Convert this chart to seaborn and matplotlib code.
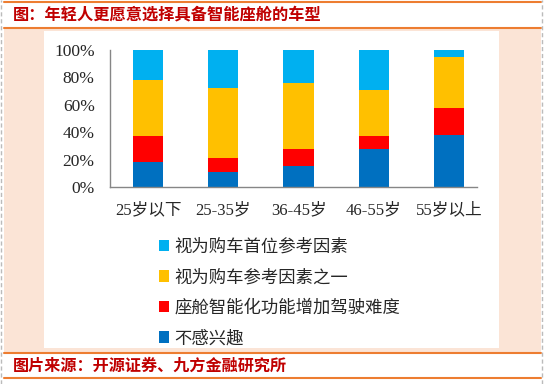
import matplotlib
matplotlib.use("Agg")
import matplotlib.pyplot as plt
from matplotlib.patches import Rectangle, Patch
from matplotlib.lines import Line2D
from matplotlib.ticker import PercentFormatter
import pandas as pd
import seaborn as sns

# data (percent)
categories = ["25岁以下", "25-35岁", "36-45岁", "46-55岁", "55岁以上"]
not_interested = [18, 11, 15, 28, 38]          # 不感兴趣
harder_to_drive = [19, 10, 13, 9, 20]          # 座舱智能化功能增加驾驶难度
one_factor = [41, 51, 48, 34, 37]              # 视为购车参考因素之一
first_factor = [22, 28, 24, 29, 5]             # 视为购车首位参考因素

series_names = ["不感兴趣", "座舱智能化功能增加驾驶难度", "视为购车参考因素之一", "视为购车首位参考因素"]
series_colors = ["#0070C0", "#FF0000", "#FFC000", "#00B0F0"]

sns.set_style("white")
plt.rcParams["font.family"] = ["Liberation Serif", "Noto Sans CJK SC", "DejaVu Sans"]

W, H = 545, 384
fig = plt.figure(figsize=(W / 100, H / 100), dpi=100)
fig.patch.set_facecolor("white")


def fx(x):
    return x / W


def fy(y):
    return 1 - y / H


# frame decoration
fig.patches.append(Rectangle((fx(4), fy(352)), fx(537), 323 / H, transform=fig.transFigure,
                             facecolor="#FBE4D6", edgecolor="none", zorder=-2))
fig.patches.append(Rectangle((fx(44), fy(348)), fx(455), 317 / H, transform=fig.transFigure,
                             facecolor="white", edgecolor="none", zorder=-1))
for y in [2, 28, 353, 378]:
    fig.add_artist(Line2D([fx(4), fx(541)], [fy(y), fy(y)], transform=fig.transFigure,
                          color="#ED7D31", lw=1.5))
for x in [1, 542]:
    fig.add_artist(Line2D([fx(x), fx(x)], [0, 1], transform=fig.transFigure,
                          color="#BBBBBB", lw=1, ls=(0, (3, 2))))

fig.text(fx(13), fy(14), "图：年轻人更愿意选择具备智能座舱的车型", color="#C00000",
         fontsize=11.7, fontweight="bold", va="center", ha="left",
         family=["Noto Sans CJK SC", "DejaVu Sans"])
fig.text(fx(13), fy(366), "图片来源：开源证券、九方金融研究所", color="#C00000",
         fontsize=11.6, fontweight="bold", va="center", ha="left",
         family=["Noto Sans CJK SC", "DejaVu Sans"])

# chart
ax = fig.add_axes([fx(110), fy(187), fx(367), 137 / H])
ax.set_facecolor("none")
ax.set_zorder(1)

layers = [not_interested, harder_to_drive, one_factor, first_factor]
cum = []
total = [0] * len(categories)
for layer in layers:
    total = [t + v for t, v in zip(total, layer)]
    cum.append(list(total))

# draw from the tallest cumulative layer down so the stack shows through
for i in reversed(range(len(layers))):
    df = pd.DataFrame({"cat": categories, "val": cum[i]})
    sns.barplot(data=df, x="cat", y="val", color=series_colors[i], saturation=1,
                width=0.4, linewidth=0, ax=ax)

ax.set_xlim(-0.505, 4.372)
ax.set_ylim(0, 100)
ax.set_xlabel("")
ax.set_ylabel("")
ax.yaxis.set_major_formatter(PercentFormatter(decimals=0))
ax.set_yticks([0, 20, 40, 60, 80, 100])
ax.set_xticks(range(len(categories)))
ax.set_xticklabels(categories)
ax.set_xticks([0.5, 1.5, 2.5, 3.5], minor=True)
ax.tick_params(axis="x", which="major", length=0, pad=11, labelsize=12)
ax.tick_params(axis="x", which="minor", direction="in", length=4, color="#868686")
ax.tick_params(axis="y", direction="in", length=5, color="#868686", labelsize=12.5, pad=11)
for side in ["top", "right"]:
    ax.spines[side].set_visible(False)
for side in ["left", "bottom"]:
    ax.spines[side].set_color("#868686")
    ax.spines[side].set_linewidth(1)

handles = [Patch(facecolor=series_colors[i], edgecolor="none") for i in reversed(range(4))]
labels = [series_names[i] for i in reversed(range(4))]
fig.legend(handles, labels, loc="upper left", bbox_to_anchor=(fx(143), fy(222)),
           frameon=False, handlelength=0.6, handleheight=0.6, handletextpad=0.3,
           labelspacing=0.72, prop={"family": ["Noto Sans CJK SC", "DejaVu Sans"], "size": 12.5})

fig.savefig("out.png", dpi=100)
